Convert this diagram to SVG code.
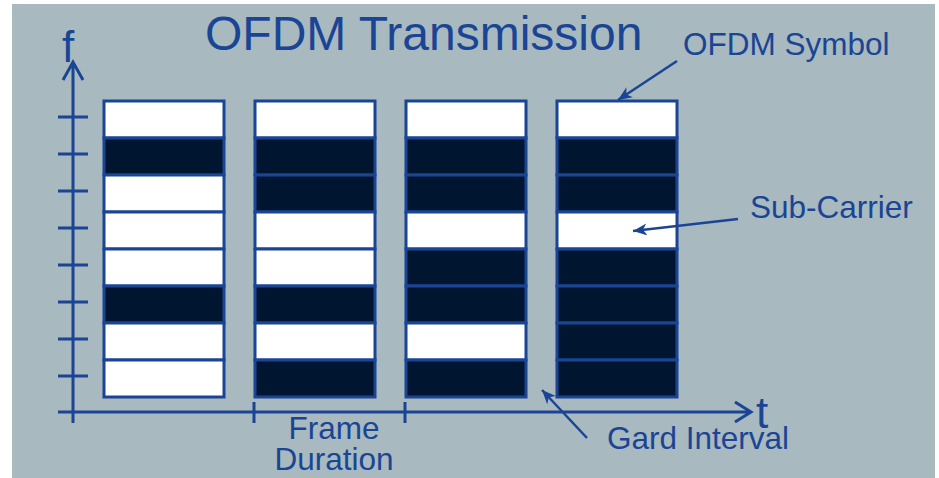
<svg xmlns="http://www.w3.org/2000/svg" width="939" height="478" viewBox="0 0 939 478">
<style>
.txt{font-family:"Liberation Sans",Arial,sans-serif;fill:#1a4595}
.ax{stroke:#1a4595;stroke-width:3;fill:none}
.w{fill:#ffffff;stroke:#1a4595;stroke-width:3}
.b{fill:#001630;stroke:#1a4595;stroke-width:3}
.call{stroke:#1a4595;stroke-width:2.5;fill:none;marker-end:url(#ah)}
</style>
<defs>
<marker id="ah" markerUnits="userSpaceOnUse" markerWidth="16" markerHeight="14" refX="14" refY="6" orient="auto">
<path d="M0,0 L14,6 L0,12 L4,6 z" fill="#1a4595"/>
</marker>
</defs>
<rect x="12" y="4" width="923" height="474" fill="#a8b9bf"/>
<text class="txt" x="205" y="50" font-size="48">OFDM Transmission</text>
<g id="axes">
<path class="ax" d="M73,423 V62 M63,80 L73,62 L83,80"/>
<path class="ax" d="M58,412 H751 M735,402 L751,412 L735,422"/>
<path class="ax" d="M58,117H88M58,154H88M58,191H88M58,228H88M58,265H88M58,302H88M58,339H88M58,376H88"/>
<path class="ax" d="M254,402V423M405,402V423"/>
<text class="txt" x="62" y="62" font-size="44">f</text>
<text class="txt" x="756" y="428" font-size="44">t</text>
</g>
<g id="symbol1">
<rect class="w" x="104" y="101" width="120" height="37"/>
<rect class="b" x="104" y="138" width="120" height="37"/>
<rect class="w" x="104" y="175" width="120" height="37"/>
<rect class="w" x="104" y="212" width="120" height="37"/>
<rect class="w" x="104" y="249" width="120" height="37"/>
<rect class="b" x="104" y="286" width="120" height="37"/>
<rect class="w" x="104" y="323" width="120" height="37"/>
<rect class="w" x="104" y="360" width="120" height="37"/>
</g>
<g id="symbol2">
<rect class="w" x="255" y="101" width="120" height="37"/>
<rect class="b" x="255" y="138" width="120" height="37"/>
<rect class="b" x="255" y="175" width="120" height="37"/>
<rect class="w" x="255" y="212" width="120" height="37"/>
<rect class="w" x="255" y="249" width="120" height="37"/>
<rect class="b" x="255" y="286" width="120" height="37"/>
<rect class="w" x="255" y="323" width="120" height="37"/>
<rect class="b" x="255" y="360" width="120" height="37"/>
</g>
<g id="symbol3">
<rect class="w" x="406" y="101" width="120" height="37"/>
<rect class="b" x="406" y="138" width="120" height="37"/>
<rect class="b" x="406" y="175" width="120" height="37"/>
<rect class="w" x="406" y="212" width="120" height="37"/>
<rect class="b" x="406" y="249" width="120" height="37"/>
<rect class="b" x="406" y="286" width="120" height="37"/>
<rect class="w" x="406" y="323" width="120" height="37"/>
<rect class="b" x="406" y="360" width="120" height="37"/>
</g>
<g id="symbol4">
<rect class="w" x="557" y="101" width="120" height="37"/>
<rect class="b" x="557" y="138" width="120" height="37"/>
<rect class="b" x="557" y="175" width="120" height="37"/>
<rect class="w" x="557" y="212" width="120" height="37"/>
<rect class="b" x="557" y="249" width="120" height="37"/>
<rect class="b" x="557" y="286" width="120" height="37"/>
<rect class="b" x="557" y="323" width="120" height="37"/>
<rect class="b" x="557" y="360" width="120" height="37"/>
</g>
<g id="connectors">
<line class="call" x1="677" y1="61" x2="618" y2="100"/>
<line class="call" x1="738" y1="219" x2="633" y2="231"/>
<line class="call" x1="587" y1="438" x2="542" y2="390"/>
</g>
<g id="labels">
<text class="txt" x="683" y="55" font-size="31.5">OFDM Symbol</text>
<text class="txt" x="750" y="218" font-size="31.5">Sub-Carrier</text>
<text class="txt" x="607" y="449" font-size="31.5">Gard Interval</text>
<text class="txt" x="334" y="439" font-size="31.5" text-anchor="middle">Frame</text>
<text class="txt" x="334" y="470" font-size="31.5" text-anchor="middle">Duration</text>
</g>
</svg>
